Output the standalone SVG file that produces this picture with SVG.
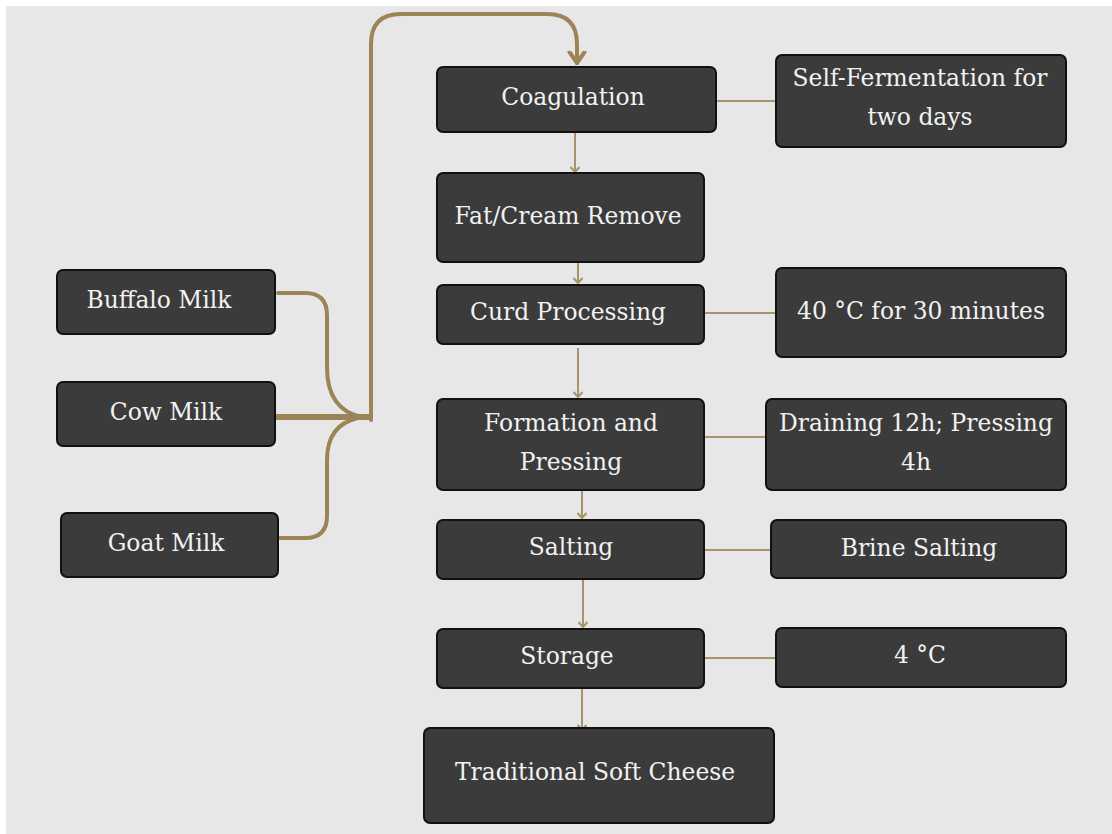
<svg xmlns="http://www.w3.org/2000/svg" width="1112" height="834" viewBox="0 0 1112 834">
<defs>
<style>
.box{fill:#3b3b3b;stroke:#111;stroke-width:2}
.t{font-family:'DejaVu Serif',serif;font-size:23.4px;fill:#f2f2f2;text-anchor:middle}
.thin{stroke:#a8936c;stroke-width:2;fill:none}
.thick{stroke:#9c8456;stroke-width:4;fill:none;stroke-linecap:round;stroke-linejoin:round}
.cowline{stroke:#9c8456;stroke-width:6;fill:none}
</style>
<marker id="ah" markerUnits="userSpaceOnUse" markerWidth="12" markerHeight="12" refX="6" refY="6" orient="auto" viewBox="0 0 12 12">
<path d="M1,1.5 L6,6 L1,10.5" fill="none" stroke="#a8936c" stroke-width="2"/>
</marker>
<marker id="ahb" markerUnits="userSpaceOnUse" markerWidth="20" markerHeight="20" refX="12" refY="10" orient="auto" viewBox="0 0 20 20">
<path d="M1,2.5 L12,10 L1,17.5" fill="none" stroke="#9c8456" stroke-width="4" stroke-linejoin="round" stroke-linecap="round"/>
</marker>
</defs>
<rect x="0" y="0" width="1112" height="834" fill="#ffffff"/>
<rect x="6" y="6" width="1106" height="828" fill="#e7e7e7"/>

<g id="connectors">
<path class="thick" d="M278,293 L305,293 Q327,293 327,315 L327,367 Q327,410 362,417"/>
<path class="thick" d="M280,538 L305,538 Q327,538 327,516 L327,460 Q327,425 358,418"/>
<path class="cowline" d="M274,417 L370,417"/>
<path class="thick" d="M371,420 L371,44 Q371,14 401,14 L547,14 Q577,14 577,44 L577,63" marker-end="url(#ahb)"/>
<line class="thin" x1="575" y1="122" x2="575" y2="172" marker-end="url(#ah)"/>
<line class="thin" x1="578" y1="234" x2="578" y2="283" marker-end="url(#ah)"/>
<line class="thin" x1="578" y1="348" x2="578" y2="397" marker-end="url(#ah)"/>
<line class="thin" x1="582" y1="491" x2="582" y2="518" marker-end="url(#ah)"/>
<line class="thin" x1="583" y1="580" x2="583" y2="627" marker-end="url(#ah)"/>
<line class="thin" x1="582" y1="682" x2="582" y2="730" marker-end="url(#ah)"/>
<line class="thin" x1="716" y1="101" x2="776" y2="101"/>
<line class="thin" x1="704" y1="313" x2="776" y2="313"/>
<line class="thin" x1="704" y1="437" x2="766" y2="437"/>
<line class="thin" x1="704" y1="550" x2="771" y2="550"/>
<line class="thin" x1="704" y1="658" x2="776" y2="658"/>
</g>

<g id="buffalo"><rect class="box" x="57" y="270" width="218" height="64" rx="6"/><text class="t" x="159" y="308">Buffalo Milk</text></g>
<g id="cow"><rect class="box" x="57" y="382" width="218" height="64" rx="6"/><text class="t" x="166" y="420">Cow Milk</text></g>
<g id="goat"><rect class="box" x="61" y="513" width="217" height="64" rx="6"/><text class="t" x="166" y="551">Goat Milk</text></g>

<g id="coagulation"><rect class="box" x="437" y="67" width="279" height="65" rx="6"/><text class="t" x="573" y="105">Coagulation</text></g>
<g id="selfferm"><rect class="box" x="776" y="55" width="290" height="92" rx="6"/><text class="t" x="920" y="86">Self-Fermentation for</text><text class="t" x="920" y="125">two days</text></g>
<g id="fat"><rect class="box" x="437" y="173" width="267" height="89" rx="6"/><text class="t" x="568" y="224">Fat/Cream Remove</text></g>
<g id="curd"><rect class="box" x="437" y="285" width="267" height="59" rx="6"/><text class="t" x="568" y="320">Curd Processing</text></g>
<g id="temp40"><rect class="box" x="776" y="268" width="290" height="89" rx="6"/><text class="t" x="921" y="319">40 °C for 30 minutes</text></g>
<g id="formation"><rect class="box" x="437" y="399" width="267" height="91" rx="6"/><text class="t" x="571" y="431">Formation and</text><text class="t" x="571" y="470">Pressing</text></g>
<g id="draining"><rect class="box" x="766" y="399" width="300" height="91" rx="6"/><text class="t" x="916" y="431">Draining 12h; Pressing</text><text class="t" x="916" y="470">4h</text></g>
<g id="salting"><rect class="box" x="437" y="520" width="267" height="59" rx="6"/><text class="t" x="571" y="555">Salting</text></g>
<g id="brine"><rect class="box" x="771" y="520" width="295" height="58" rx="6"/><text class="t" x="919" y="556">Brine Salting</text></g>
<g id="storage"><rect class="box" x="437" y="629" width="267" height="59" rx="6"/><text class="t" x="567" y="664">Storage</text></g>
<g id="temp4"><rect class="box" x="776" y="628" width="290" height="59" rx="6"/><text class="t" x="920" y="663">4 °C</text></g>
<g id="cheese"><rect class="box" x="424" y="728" width="350" height="95" rx="6"/><text class="t" x="595" y="780">Traditional Soft Cheese</text></g>
</svg>
